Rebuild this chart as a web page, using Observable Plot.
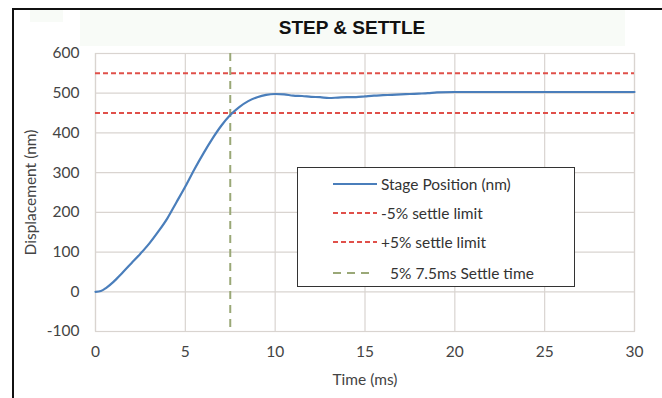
<!DOCTYPE html>
<html><head><meta charset="utf-8">
<script src="https://cdn.jsdelivr.net/npm/d3@7"></script>
<script src="https://cdn.jsdelivr.net/npm/@observablehq/plot@0.6"></script>
<style>
body{margin:0;background:#fff;font-family:Lato,"Open Sans",sans-serif;}
#wrap{position:relative;width:662px;height:398px;overflow:hidden;background:#fff;}
#frame{position:absolute;left:12px;top:8px;width:700px;height:420px;border-left:2px solid #111;border-top:2px solid #111;}
#band{position:absolute;left:80px;top:10px;width:545px;height:36px;background:#f8fbf7;}
#band2{position:absolute;left:30px;top:10px;width:33px;height:12px;background:#f8fbf7;}
#title{position:absolute;left:0;top:17px;width:704px;text-align:center;font-family:"Liberation Sans",Arial,sans-serif;font-weight:bold;font-size:19px;color:#111;}
#chart{position:absolute;left:0;top:33px;}
#legend{position:absolute;left:297px;top:167px;width:276px;height:118px;border:1.5px solid #333;background:#fff;}
.row{position:absolute;left:0;height:20px;font-size:15.5px;color:#333;}
.row svg{position:absolute;left:35px;top:0;}
.row span{position:absolute;left:83px;top:0;white-space:nowrap;line-height:20px;}
</style></head>
<body>
<div id="wrap">
  <div id="band2"></div>
  <div id="band"></div>
  <div id="frame"></div>
  <div id="title">STEP &amp; SETTLE</div>
  <div id="chart"></div>
  <div id="legend"></div>
</div>
<script>
const time = [0,0.3,0.6,1.0,1.5,2.0,2.5,3.0,3.5,4.0,4.5,5.0,5.5,6.0,6.5,7.0,7.5,8.0,8.5,9.0,9.5,10.0,10.5,11,11.5,12,12.5,13,13.5,14,14.5,15,15.5,16,16.5,17,17.5,18,18.5,19,20,22,25,28,30];
const position = [0,2,10,25,48,72,96,122,152,185,225,265,308,348,385,418,445,465,480,490,496,498,497,494,493,491,490,488,489,490,490,492,494,495,496,497,498,499,500,502,503,503,503,503,503];
const lowerLimit = 450;
const upperLimit = 550;
const settleTime = 7.5;
const xTicks = [0,5,10,15,20,25,30];
const yTicks = [-100,0,100,200,300,400,500,600];
const legendLabels = ["Stage Position (nm)","-5% settle limit","+5% settle limit","5% 7.5ms Settle time"];

const data = time.map((t,i)=>({t, v: position[i]}));
const blue = "#4a7ebb", red = "#e0504a", green = "#9aa877", grid = "#d9d4d0";

const plot = Plot.plot({
  width: 662, height: 365,
  marginLeft: 95, marginRight: 28, marginTop: 20, marginBottom: 67,
  style: {fontFamily: "Lato, 'Open Sans', sans-serif", fontSize: "15.5px", color: "#444", background: "transparent"},
  x: {domain: [0,30], ticks: xTicks, tickSize: 0, tickPadding: 14, tickFormat: d => String(d), label: "Time (ms)", labelAnchor: "center", labelArrow: "none", labelOffset: 53},
  y: {domain: [-100,600], ticks: yTicks, tickSize: 0, tickPadding: 16, tickFormat: d => String(d), label: "Displacement (nm)", labelAnchor: "center", labelArrow: "none", labelOffset: 71},
  marks: [
    Plot.gridX(xTicks, {stroke: grid, strokeOpacity: 1, strokeWidth: 1.2}),
    Plot.gridY(yTicks, {stroke: grid, strokeOpacity: 1, strokeWidth: 1.2}),
    Plot.frame({stroke: grid, strokeWidth: 1.2}),
    Plot.ruleY([upperLimit], {stroke: red, strokeWidth: 2, strokeDasharray: "5,3"}),
    Plot.ruleY([lowerLimit], {stroke: red, strokeWidth: 2, strokeDasharray: "5,3"}),
    Plot.ruleX([settleTime], {stroke: green, strokeWidth: 2, strokeDasharray: "8,6"}),
    Plot.line(data, {x: "t", y: "v", stroke: blue, strokeWidth: 2.2, curve: "monotone-x"})
  ]
});
plot.querySelectorAll("[aria-label='x-axis label'] text, [aria-label='y-axis label'] text").forEach(t=>{t.setAttribute("fill","#444");});
document.getElementById("chart").appendChild(plot);

const styles = [
  {stroke: blue, dash: null},
  {stroke: red, dash: "5,3"},
  {stroke: red, dash: "5,3"},
  {stroke: green, dash: "8,6"}
];
const tops = [6, 35, 64, 95];
const leg = document.getElementById("legend");
legendLabels.forEach((lab,i)=>{
  const r = document.createElement("div");
  r.className = "row"; r.style.top = tops[i]+"px";
  const s = styles[i];
  r.innerHTML = `<svg width="46" height="20"><line x1="0" x2="${i===3?42:44}" y1="10" y2="10" stroke="${s.stroke}" stroke-width="2" ${s.dash?`stroke-dasharray="${s.dash}"`:""}/></svg><span style="left:${i===3?92:83}px">${lab}</span>`;
  leg.appendChild(r);
});
</script>
</body></html>
